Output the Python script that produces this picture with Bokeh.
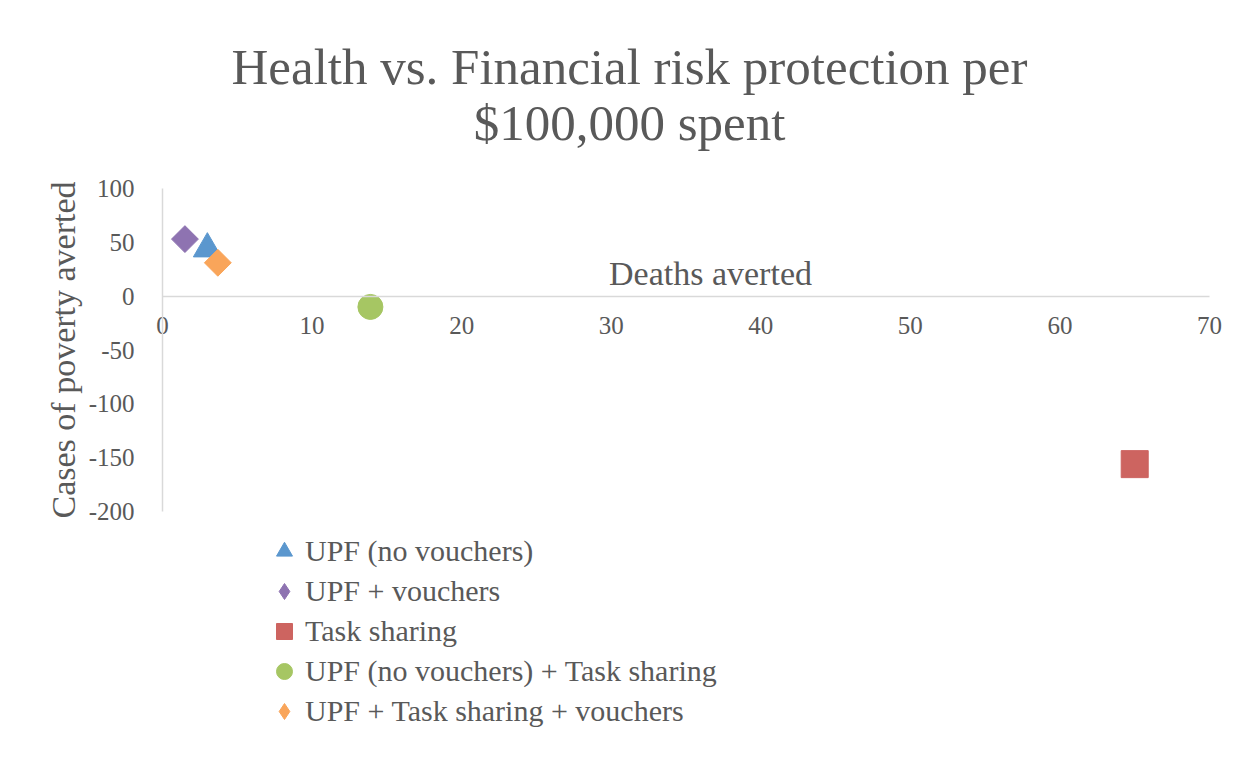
import numpy as np
from bokeh.plotting import figure
from bokeh.models import (Range1d, FixedTicker, Label, Legend, LegendItem)
from bokeh.embed import file_html
from bokeh.resources import INLINE

# ---- data ----
series_names = ["UPF (no vouchers)", "UPF + vouchers", "Task sharing",
                "UPF (no vouchers) + Task sharing", "UPF + Task sharing + vouchers"]
deaths_averted = [3.0, 1.5, 65.0, 13.9, 3.7]
poverty_averted = [44, 53, -156, -10, 31]
x_ticks = [0, 10, 20, 30, 40, 50, 60, 70]
y_ticks = [-200, -150, -100, -50, 0, 50, 100]
title_lines = ["Health vs. Financial risk protection per", "$100,000 spent"]
x_title = "Deaths averted"
y_title = "Cases of poverty averted"

# ---- style ----
colors = ["#5B97CE", "#8E73B1", "#CD6460", "#A6C663", "#F9A55A"]
markers = ["triangle", "square", "square", "circle", "square"]
legend_markers = ["triangle", "diamond", "square", "circle", "diamond"]
angles = [0, np.pi / 4, 0, 0, np.pi / 4]
sizes = [28, 19, 27, 25, 19]
FONT = "Liberation Serif"
TXT = "#595959"

W, H = 1236, 757
# plot area: x 0..70 -> px 162..1209 ; y 100..-200 -> px 188..511
PX_X0, PX_X70 = 162, 1209
PX_Y100, PX_YM200 = 188, 511
sx = (PX_X70 - PX_X0) / 70.0
sy = (PX_YM200 - PX_Y100) / 300.0
py0 = PX_Y100 + 100 * sy
x_rng = Range1d(-PX_X0 / sx, (W - PX_X0) / sx)
y_rng = Range1d((py0 - H) / sy, py0 / sy)

p = figure(width=W, height=H, output_backend="svg", toolbar_location=None,
           x_range=x_rng, y_range=y_rng,
           min_border=0, min_border_left=0, min_border_right=0,
           min_border_top=0, min_border_bottom=0)
p.title.visible = False
p.outline_line_color = None
p.grid.visible = False
p.background_fill_color = "white"
p.border_fill_color = "white"

# x axis crossing at y=0
xa = p.xaxis[0]
xa.fixed_location = 0
xa.bounds = (x_ticks[0], x_ticks[-1])
xa.ticker = FixedTicker(ticks=x_ticks)
xa.major_tick_line_color = None
xa.minor_tick_line_color = None
xa.axis_line_color = "#d9d9d9"
xa.axis_line_width = 1.5
xa.major_label_text_font = FONT
xa.major_label_text_font_size = "25px"
xa.major_label_text_color = TXT
xa.major_label_standoff = 15

ya = p.yaxis[0]
ya.fixed_location = 0
ya.bounds = (y_ticks[0], y_ticks[-1])
ya.ticker = FixedTicker(ticks=y_ticks)
ya.major_label_overrides = {t: str(t) for t in y_ticks}
ya.major_tick_line_color = None
ya.minor_tick_line_color = None
ya.axis_line_color = "#d9d9d9"
ya.axis_line_width = 1.5
ya.major_label_text_font = FONT
ya.major_label_text_font_size = "25px"
ya.major_label_text_color = TXT
ya.major_label_standoff = 22
ya.axis_label = y_title
ya.axis_label_text_font = FONT
ya.axis_label_text_font_size = "34px"
ya.axis_label_text_font_style = "normal"
ya.axis_label_text_color = TXT
ya.axis_label_standoff = 4

items = []
for i, name in enumerate(series_names):
    proxy = None
    if legend_markers[i] != markers[i]:
        # diamond drawn underneath (fully covered) so the legend shows a diamond
        proxy = p.scatter(x=[deaths_averted[i]], y=[poverty_averted[i]],
                          marker=legend_markers[i], size=sizes[i] * 1.3,
                          fill_color=colors[i], line_color=colors[i])
    r = p.scatter(x=[deaths_averted[i]], y=[poverty_averted[i]], marker=markers[i],
                  size=sizes[i], angle=angles[i], fill_color=colors[i],
                  line_color=colors[i])
    items.append(LegendItem(label=name, renderers=[proxy if proxy is not None else r]))

legend = Legend(items=items, location=(264, H - 731), orientation="vertical",
                label_text_font=FONT, label_text_font_size="30px",
                label_text_color=TXT, glyph_width=40, glyph_height=40,
                label_height=40, spacing=0, padding=0, margin=0,
                label_standoff=1, border_line_color=None,
                background_fill_alpha=0)
p.add_layout(legend, "center")

# axis title for x, above the line
p.add_layout(Label(x=710, x_units="screen", y=0, y_units="data", text=x_title,
                   text_align="center", text_baseline="bottom", y_offset=4,
                   text_font=FONT, text_font_size="34px", text_color=TXT))

# chart title
for k, line in enumerate(title_lines):
    p.add_layout(Label(x=629, y=H - 66 - 56 * k, x_units="screen", y_units="screen",
                       text=line, text_align="center", text_baseline="middle",
                       text_font=FONT, text_font_size="51px", text_color=TXT))

open("out.html", "w").write(file_html(p, INLINE))
